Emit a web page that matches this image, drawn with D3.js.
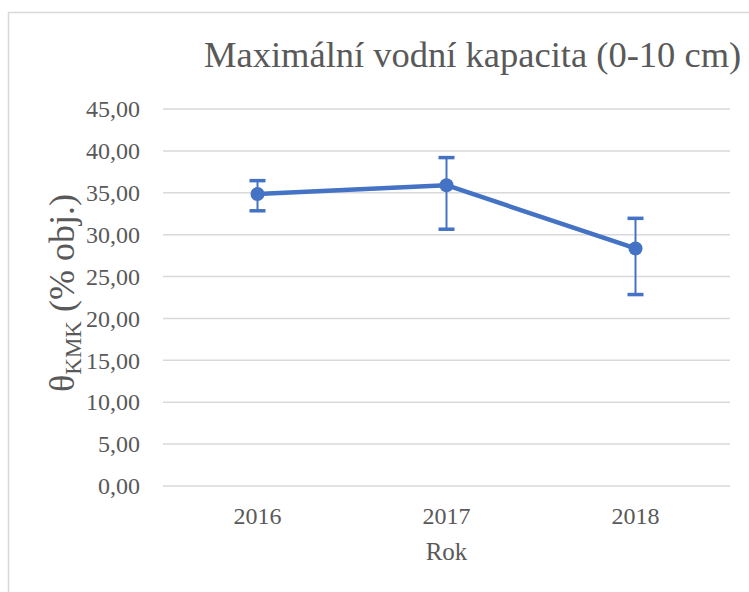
<!DOCTYPE html>
<html lang="cs">

<head>
    <meta charset="UTF-8">
    <script src="https://d3js.org/d3.v7.min.js"></script>
    <title>Maximální vodní kapacita</title>
    <style>
        body { margin: 0; background: #fff; }
        svg text { font-family: "Liberation Serif", "DejaVu Serif", serif !important; fill: #595959; }
    </style>
</head>

<body>
    <script>
        // Data
        var years = ["2016", "2017", "2018"];
        var values = [34.85, 35.9, 28.35];
        var errUp = [1.6, 3.3, 3.6];
        var errDown = [2.0, 5.25, 5.5];
        var yTicks = [0, 5, 10, 15, 20, 25, 30, 35, 40, 45];

        var W = 749, H = 592;
        var margin = { top: 109, right: 19, bottom: 106, left: 163 },
            width = W - margin.left - margin.right,
            height = H - margin.top - margin.bottom;

        var svg = d3.select("body").append("svg")
            .attr("width", W)
            .attr("height", H);

        // chart area border (clipped at right/bottom like the original)
        svg.append("rect")
            .attr("x", 8.5).attr("y", 12.5)
            .attr("width", 1000).attr("height", 1000)
            .attr("fill", "none")
            .attr("stroke", "#d9d9d9")
            .attr("stroke-width", 1.5);

        svg.append("text")
            .attr("x", 204)
            .attr("y", 67)
            .attr("font-size", 36.5)
            .text("Maximální vodní kapacita (0-10 cm)");

        var g = svg.append("g")
            .attr("transform", "translate(" + margin.left + "," + margin.top + ")");

        var x = d3.scaleBand().domain(years).range([0, width]);
        var y = d3.scaleLinear().domain([0, 45]).range([height, 0]);
        var cx = function (d) { return x(d) + x.bandwidth() / 2; };

        // gridlines
        g.selectAll(".grid").data(yTicks).enter().append("line")
            .attr("x1", 0).attr("x2", width)
            .attr("y1", function (d) { return y(d); })
            .attr("y2", function (d) { return y(d); })
            .attr("stroke", "#d9d9d9")
            .attr("stroke-width", 1.5);

        // y axis labels
        var yAxis = g.append("g")
            .attr("transform", "translate(-20,0)")
            .call(d3.axisLeft(y).tickValues(yTicks).tickSize(0)
                .tickFormat(function (d) { return d3.format(".2f")(d).replace(".", ","); }));
        yAxis.select(".domain").remove();
        yAxis.selectAll("text").attr("font-size", 24).attr("fill", "#595959");

        // x axis labels
        var xAxis = g.append("g")
            .attr("transform", "translate(0," + (height + 18) + ")")
            .call(d3.axisBottom(x).tickSize(0));
        xAxis.select(".domain").remove();
        xAxis.selectAll("text").attr("font-size", 24).attr("fill", "#595959");

        svg.append("text")
            .attr("x", margin.left + width / 2)
            .attr("y", 560)
            .attr("text-anchor", "middle")
            .attr("font-size", 25)
            .text("Rok");

        // y axis title
        var yt = svg.append("text")
            .attr("transform", "translate(74,293) rotate(-90)")
            .attr("text-anchor", "middle")
            .attr("font-size", 36);
        yt.append("tspan").text("θ");
        yt.append("tspan").attr("font-size", 23).attr("dy", 7).text("KMK");
        yt.append("tspan").attr("dy", -7).text(" (% obj.)");

        var blue = "#4472c4";

        // error bars
        var eb = g.selectAll(".err").data(years).enter().append("g");
        eb.append("line")
            .attr("x1", cx).attr("x2", cx)
            .attr("y1", function (d, i) { return y(values[i] + errUp[i]); })
            .attr("y2", function (d, i) { return y(values[i] - errDown[i]); })
            .attr("stroke", blue).attr("stroke-width", 2);
        eb.append("line")
            .attr("x1", function (d) { return cx(d) - 8; })
            .attr("x2", function (d) { return cx(d) + 8; })
            .attr("y1", function (d, i) { return y(values[i] + errUp[i]); })
            .attr("y2", function (d, i) { return y(values[i] + errUp[i]); })
            .attr("stroke", blue).attr("stroke-width", 3.5);
        eb.append("line")
            .attr("x1", function (d) { return cx(d) - 8; })
            .attr("x2", function (d) { return cx(d) + 8; })
            .attr("y1", function (d, i) { return y(values[i] - errDown[i]); })
            .attr("y2", function (d, i) { return y(values[i] - errDown[i]); })
            .attr("stroke", blue).attr("stroke-width", 3.5);

        // line
        var line = d3.line()
            .x(function (d) { return cx(d); })
            .y(function (d, i) { return y(values[i]); });
        g.append("path")
            .datum(years)
            .attr("d", line)
            .attr("fill", "none")
            .attr("stroke", blue)
            .attr("stroke-width", 4.5)
            .attr("stroke-linejoin", "round");

        // markers
        g.selectAll(".pt").data(years).enter().append("circle")
            .attr("cx", cx)
            .attr("cy", function (d, i) { return y(values[i]); })
            .attr("r", 7)
            .attr("fill", blue);
    </script>
</body>

</html>
